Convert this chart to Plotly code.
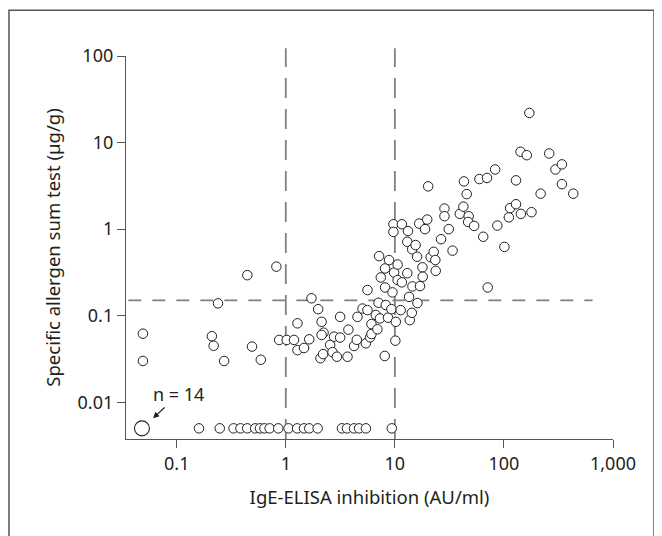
import numpy as np
import plotly.graph_objects as go

# IgE-ELISA inhibition (AU/ml) vs specific allergen sum test (ug/g)
elisa = [
    0.049, 0.049, 0.21, 0.218, 0.239, 0.272, 0.444, 0.49, 0.59, 0.82, 0.869,
    1.02, 1.19, 1.28, 1.28, 1.47, 1.64, 1.72, 1.98, 2.13, 2.22, 2.13, 2.08, 2.2,
    2.55, 2.68, 2.77, 2.94, 3.15, 3.15, 3.75, 3.68, 4.23, 4.48, 4.54,
    5.05, 5.42, 5.61, 5.61, 5.93, 6.1, 6.1, 6.69, 6.92, 7.08, 7.17, 7.3, 7.43,
    8.13, 8.13, 8.26, 8.08, 8.66, 8.85, 9.3, 9.5, 9.7, 9.7, 9.84, 10.2, 10.1,
    10.6, 10.6, 11.6, 11.3, 11.6, 13.0, 13.0, 13.2, 13.5, 13.7, 14.3, 14.4,
    14.5, 15.5, 16.0, 16.1, 16.7, 17.0, 17.9, 18.0, 18.9, 19.8, 20.2, 21.3,
    22.7, 23.5, 23.7, 26.5, 28.5, 28.5, 31.2, 33.8, 39.4, 42.5, 43, 45.6,
    47.5, 47, 53.3, 59.6, 64.6, 70, 71, 83, 87, 101, 111, 114, 129, 129, 142,
    143, 162, 171, 179, 217, 260, 297, 340, 340, 432,
]
sumtest = [
    0.062, 0.030, 0.058, 0.045, 0.139, 0.030, 0.294, 0.044, 0.031, 0.369, 0.0525,
    0.0525, 0.0525, 0.0817, 0.040, 0.0424, 0.0534, 0.159, 0.119, 0.085, 0.0637, 0.060, 0.0323, 0.036,
    0.046, 0.038, 0.0573, 0.0336, 0.056, 0.097, 0.069, 0.0336, 0.0447, 0.0527, 0.097,
    0.121, 0.048, 0.116, 0.198, 0.0563, 0.0615, 0.080, 0.102, 0.0697, 0.141, 0.488, 0.093, 0.277,
    0.352, 0.212, 0.133, 0.0343, 0.095, 0.439, 0.119, 0.186, 1.14, 0.93, 0.315, 0.085, 0.0515,
    0.39, 0.258, 0.243, 0.116, 1.14, 0.714, 0.31, 0.95, 0.165, 0.089, 0.108, 0.585,
    0.218, 0.655, 0.48, 0.14, 1.16, 0.22, 0.362, 0.282, 1.0, 1.29, 3.12, 0.475,
    0.547, 0.44, 0.33, 0.765, 1.73, 1.41, 1.0, 0.565, 1.5, 1.82, 3.56, 2.54,
    1.41, 1.21, 1.09, 3.79, 0.817, 3.9, 0.212, 4.89, 1.1, 0.624, 1.37, 1.75, 3.66, 1.94, 7.83,
    1.5, 7.15, 22.0, 1.57, 2.57, 7.48, 4.89, 5.6, 3.31, 2.57,
]

# samples below detection limit (plotted along the bottom)
undetect_x = [0.160, 0.248, 0.332, 0.384, 0.443, 0.524, 0.580, 0.637, 0.711, 0.853,
              1.06, 1.27, 1.47, 1.64, 1.96, 3.27, 3.64, 4.22, 4.70, 5.43, 9.37]
undetect_y = 0.005
both_neg_x = 0.048  # n = 14

cutoff_y = 0.15
cutoff_x = [1, 10]

x_ticks = [0.1, 1, 10, 100, 1000]
x_labels = ["0.1", "1", "10", "100", "1,000"]
y_ticks = [0.01, 0.1, 1, 10, 100]
y_labels = ["0.01", "0.1", "1", "10", "100"]

ink = "#231f20"
axis_col = "#555555"
dash_col = "#808080"

fig = go.Figure()

fig.add_trace(go.Scatter(
    x=undetect_x, y=[undetect_y] * len(undetect_x), mode="markers",
    marker=dict(size=9.5, color="white", line=dict(color=ink, width=1)),
    showlegend=False
))
fig.add_trace(go.Scatter(
    x=elisa, y=sumtest, mode="markers",
    marker=dict(size=9.5, color="white", line=dict(color=ink, width=1)),
    showlegend=False
))
fig.add_trace(go.Scatter(
    x=[both_neg_x], y=[undetect_y], mode="markers",
    marker=dict(size=15, color="white", line=dict(color=ink, width=1.1)),
    showlegend=False
))

for cx in cutoff_x:
    fig.add_shape(type="line", xref="x", yref="paper", x0=cx, x1=cx, y0=0, y1=1.02,
                  line=dict(color=dash_col, width=1.8, dash="20px,11px"), layer="below")
fig.add_shape(type="line", xref="x", yref="y", x0=0.036, x1=650, y0=cutoff_y, y1=cutoff_y,
              line=dict(color=dash_col, width=1.8, dash="13px,11px"), layer="below")

# outer frame (page has an 8px body margin, figure is sized to fill the rest)
fig.add_shape(type="rect", xref="paper", yref="paper", x0=-0.2403, x1=1.0842,
              y0=-0.28, y1=1.1192, line=dict(color=axis_col, width=1.5))

fig.add_annotation(x=np.log10(0.0607), y=np.log10(0.00656), ax=13, ay=-12,
                   text="", showarrow=True, arrowhead=2, arrowsize=1, arrowwidth=1.2,
                   arrowcolor=ink)
fig.add_annotation(x=np.log10(0.103), y=np.log10(0.0125), text="n = 14", showarrow=False,
                   font=dict(size=18, color=ink))

axis_common = dict(
    type="log", showgrid=False, zeroline=False, showline=True, linecolor=axis_col,
    linewidth=1.3, ticks="outside", ticklen=8, tickwidth=1.3, tickcolor=axis_col,
    tickfont=dict(size=18, color=ink), automargin=False,
)
fig.update_xaxes(axis_common, range=[-1.465, 3], tickvals=x_ticks, ticktext=x_labels,
                 title=dict(text="IgE-ELISA inhibition (AU/ml)", font=dict(size=18.5, color=ink),
                            standoff=17))
fig.update_yaxes(axis_common, range=[-2.424, 2], tickvals=y_ticks, ticktext=y_labels,
                 title=dict(text="Specific allergen sum test (µg/g)", font=dict(size=18.5, color=ink),
                            standoff=12))

fig.update_layout(
    width=654, height=528,
    margin=dict(l=118, r=49, t=48, b=97),
    paper_bgcolor="white", plot_bgcolor="white",
    font=dict(family="Noto Sans, Open Sans, sans-serif", color=ink),
)

fig.write_html("out.html")
